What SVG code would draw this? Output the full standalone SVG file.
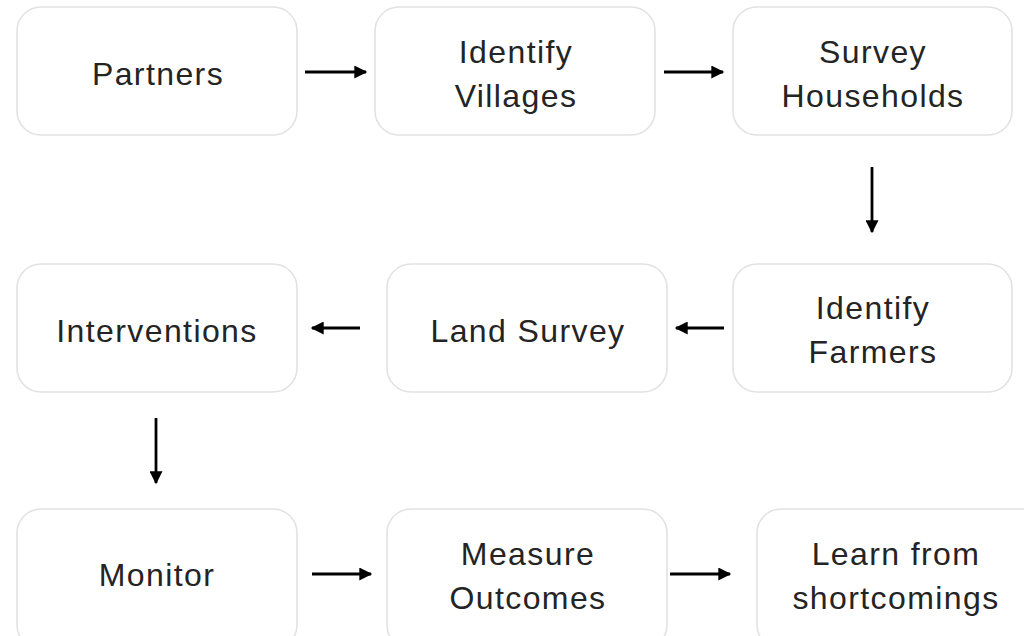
<svg xmlns="http://www.w3.org/2000/svg" width="1024" height="636" viewBox="0 0 1024 636">
  <style>
    .box { fill: #ffffff; stroke: #e2e2e2; stroke-width: 1.6; }
    .label { font-family: "Liberation Sans", Arial, sans-serif; font-size: 32px; letter-spacing: 1.4px; fill: #242424; text-anchor: middle; }
    .conn { stroke: #000000; stroke-width: 2.8; fill: none; marker-end: url(#head); }
  </style>
  <defs>
    <marker id="head" viewBox="0 0 10 10" refX="9" refY="5" markerUnits="userSpaceOnUse" markerWidth="15" markerHeight="13" orient="auto">
      <path d="M0,0 L10,5 L0,10 Z" fill="#000000"/>
    </marker>
  </defs>
  <rect width="1024" height="636" fill="#ffffff"/>

  <!-- row 1 -->
  <g id="partners">
    <rect class="box" x="17" y="7" width="280" height="128" rx="24"/>
    <text class="label" x="158" y="85">Partners</text>
  </g>
  <g id="identify-villages">
    <rect class="box" x="375" y="7" width="280" height="128" rx="24"/>
    <text class="label" x="516" y="63">Identify</text>
    <text class="label" x="516" y="107">Villages</text>
  </g>
  <g id="survey-households">
    <rect class="box" x="733" y="7" width="279" height="128" rx="24"/>
    <text class="label" x="873" y="63">Survey</text>
    <text class="label" x="873" y="107">Households</text>
  </g>

  <!-- row 2 -->
  <g id="interventions">
    <rect class="box" x="17" y="264" width="280" height="128" rx="24"/>
    <text class="label" x="157" y="342">Interventions</text>
  </g>
  <g id="land-survey">
    <rect class="box" x="387" y="264" width="280" height="128" rx="24"/>
    <text class="label" x="528" y="342">Land Survey</text>
  </g>
  <g id="identify-farmers">
    <rect class="box" x="733" y="264" width="279" height="128" rx="24"/>
    <text class="label" x="873" y="319">Identify</text>
    <text class="label" x="873" y="363">Farmers</text>
  </g>

  <!-- row 3 -->
  <g id="monitor">
    <rect class="box" x="17" y="509" width="280" height="140" rx="24"/>
    <text class="label" x="157" y="586">Monitor</text>
  </g>
  <g id="measure-outcomes">
    <rect class="box" x="387" y="509" width="280" height="140" rx="24"/>
    <text class="label" x="528" y="565">Measure</text>
    <text class="label" x="528" y="609">Outcomes</text>
  </g>
  <g id="learn">
    <rect class="box" x="757" y="509" width="290" height="140" rx="24"/>
    <text class="label" x="896" y="565">Learn from</text>
    <text class="label" x="896" y="609">shortcomings</text>
  </g>

  <!-- connectors -->
  <g id="connectors">
    <line class="conn" x1="305" y1="72" x2="366" y2="72"/>
    <line class="conn" x1="664" y1="72" x2="723" y2="72"/>
    <line class="conn" x1="872" y1="167" x2="872" y2="232"/>
    <line class="conn" x1="360" y1="328" x2="312" y2="328"/>
    <line class="conn" x1="724" y1="328" x2="676" y2="328"/>
    <line class="conn" x1="156" y1="418" x2="156" y2="483"/>
    <line class="conn" x1="312" y1="574" x2="371" y2="574"/>
    <line class="conn" x1="670" y1="574" x2="730" y2="574"/>
  </g>
</svg>
